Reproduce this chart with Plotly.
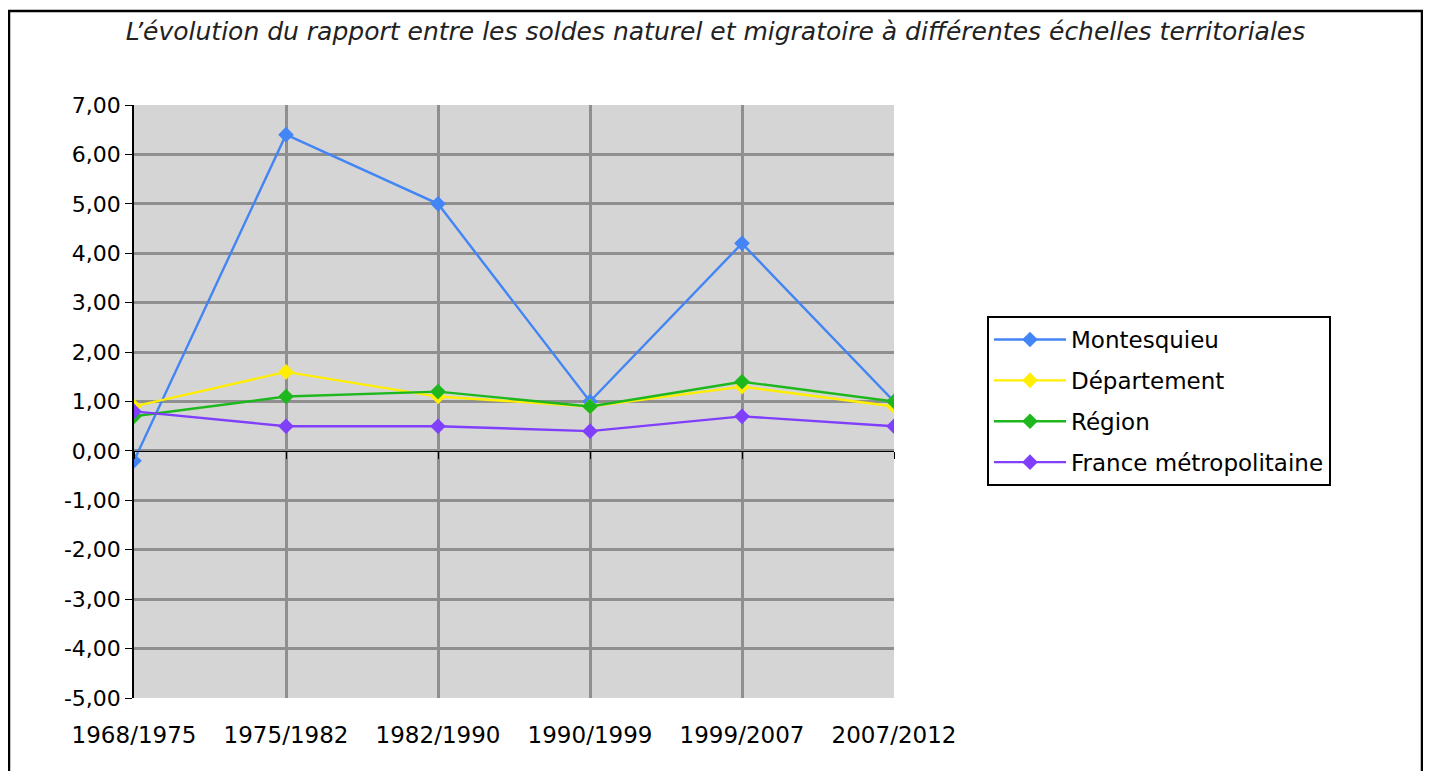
import plotly.graph_objects as go

periods = ["1968/1975", "1975/1982", "1982/1990", "1990/1999", "1999/2007", "2007/2012"]
montesquieu = [-0.2, 6.4, 5.0, 1.0, 4.2, 1.0]
departement = [0.9, 1.6, 1.1, 0.9, 1.3, 0.9]
region = [0.7, 1.1, 1.2, 0.9, 1.4, 1.0]
france = [0.8, 0.5, 0.5, 0.4, 0.7, 0.5]
y_ticks = [7, 6, 5, 4, 3, 2, 1, 0, -1, -2, -3, -4, -5]
y_tick_text = [f"{v:.2f}".replace(".", ",") for v in y_ticks]

series = [
    ("Montesquieu", montesquieu, "#4385f5"),
    ("Département", departement, "#ffee00"),
    ("Région", region, "#1eb81e"),
    ("France métropolitaine", france, "#7f3ffb"),
]

FONT = "DejaVu Sans"
OFF = 8  # default page body margin
fig = go.Figure()
# invisible trace to carry the zero-crossing x-axis
fig.add_trace(go.Scatter(x=periods, y=france, xaxis="x2", mode="lines",
                         line=dict(color="rgba(0,0,0,0)"), showlegend=False,
                         hoverinfo="skip"))
for i, (name, vals, col) in enumerate(series):
    fig.add_trace(go.Scatter(
        x=periods, y=vals, name=name, mode="lines+markers",
        line=dict(color=col, width=2.4),
        marker=dict(symbol="diamond", size=12, color=col),
        legendgroup=f"g{i}",
    ))

W, H = 1431 - 2 * OFF, 779 - 2 * OFF
L, R, T, B = 134 - OFF, 894 - OFF, 105 - OFF, 698 - OFF
pw, ph = R - L, B - T

fig.update_layout(
    width=W, height=H,
    margin=dict(l=L, r=W - R, t=T, b=H - B),
    paper_bgcolor="white",
    plot_bgcolor="#d5d5d5",
    font=dict(family=FONT, size=23, color="black"),
    title=dict(text="L’évolution du rapport entre les soldes naturel et migratoire à différentes échelles territoriales",
               x=0.5, xanchor="center", y=1 - (31 - OFF) / H, yanchor="middle",
               font=dict(family=FONT, size=25, style="italic", color="#222")),
    xaxis=dict(type="category", range=[0, 5], showgrid=True, gridcolor="#8f8f8f",
               gridwidth=2.5, showline=False, ticks="outside", ticklen=16,
               tickcolor="rgba(0,0,0,0)", tickfont=dict(size=23),
               zeroline=False, fixedrange=True),
    xaxis2=dict(type="category", overlaying="x", matches="x", anchor="free",
                position=5 / 12, showline=True, linecolor="black", linewidth=1,
                ticks="outside", ticklen=7, tickcolor="black", tickwidth=1,
                showticklabels=False, showgrid=False, zeroline=False),
    yaxis=dict(range=[-5, 7], tickvals=y_ticks, ticktext=y_tick_text,
               showgrid=True, gridcolor="#8f8f8f", gridwidth=2.5,
               showline=True, linecolor="black", linewidth=1.5,
               ticks="outside", ticklen=7, tickcolor="black",
               zeroline=False, tickfont=dict(size=22)),
    legend=dict(x=(987 - OFF - L) / pw, y=(B - (316 - OFF)) / ph,
                xanchor="left", yanchor="top",
                bordercolor="black", borderwidth=2, bgcolor="white",
                font=dict(family=FONT, size=23, color="black"),
                tracegroupgap=8, traceorder="grouped", itemwidth=72),
    shapes=[dict(type="rect", xref="paper", yref="paper",
                 x0=(1 - L) / pw, x1=(W - 1 - L) / pw,
                 y0=(B - 800) / ph, y1=(B - (11 - OFF)) / ph,
                 line=dict(color="black", width=2.5), layer="below")],
)

fig.write_html("out.html")
